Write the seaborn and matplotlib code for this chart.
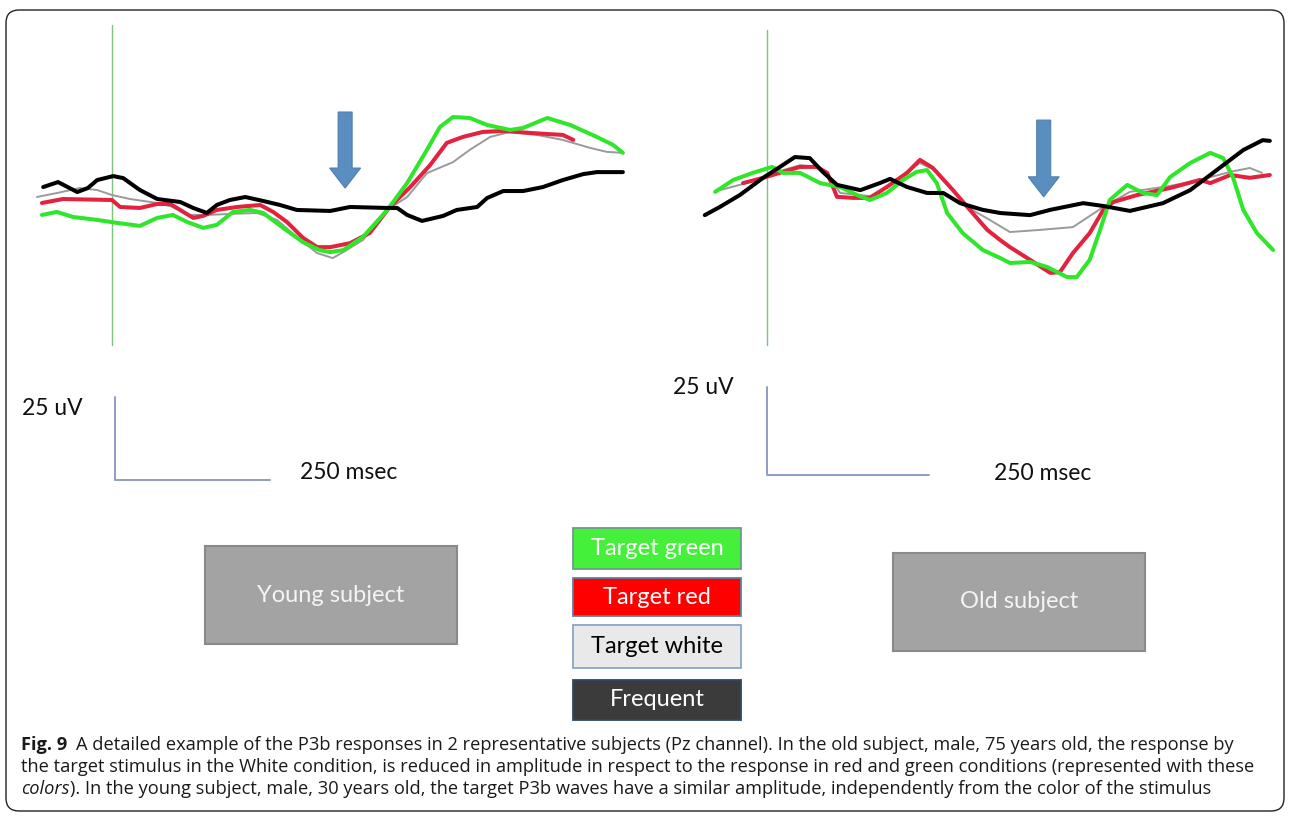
import numpy as np
import pandas as pd
import matplotlib
matplotlib.use("Agg")
import matplotlib.pyplot as plt
import seaborn as sns
from matplotlib.patches import FancyBboxPatch, Rectangle, FancyArrow

sns.set_theme(style="white")
plt.rcParams['font.family'] = ['Open Sans', 'DejaVu Sans']

# ---- P3b traces (time in ms, amplitude in uV) ----
# young subject
young_freq_t = [-111, -87, -56, -39, -24, 2, 18, 45, 73, 110, 131, 153, 169, 190, 215, 244, 271, 298,
                352, 384, 444, 460, 476, 500, 534, 556, 589, 605, 631, 663, 695, 727, 760, 782, 824]
young_freq_v = [3.9, 5.4, 2.4, 3.6, 6.0, 7.2, 6.6, 3.0, 0.3, -0.6, -2.4, -3.9, -1.5, 0.0, 0.9, -0.3, -1.5, -3.0,
                -3.3, -2.1, -2.4, -2.4, -4.5, -6.3, -4.8, -3.0, -2.1, 0.6, 2.7, 2.7, 3.9, 6.0, 7.8, 8.4, 8.4]

young_red_t = [-113, -79, 0, 13, 45, 73, 94, 110, 131, 147, 169, 202, 239, 260, 282, 308, 331, 352,
               384, 416, 448, 481, 513, 540, 566, 598, 631, 674, 727, 744]
young_red_v = [-0.9, 0.3, 0.0, -2.1, -2.4, -1.2, -1.2, -3.0, -5.4, -4.8, -3.0, -2.1, -1.5, -3.6, -6.6, -11.4, -14.2, -14.2,
               -13.0, -9.9, -2.1, 3.9, 10.5, 17.2, 19.0, 20.5, 20.8, 20.2, 19.6, 18.1]

young_green_t = [-113, -89, -63, -24, 8, 45, 73, 98, 121, 147, 169, 195, 223, 244, 276, 308, 335, 352,
                 373, 405, 444, 476, 508, 529, 550, 577, 605, 642, 663, 702, 739, 782, 808, 824]
young_green_v = [-4.5, -3.6, -5.1, -6.0, -6.9, -7.8, -5.4, -4.5, -6.6, -8.4, -7.5, -3.6, -3.0, -3.9, -8.4, -12.7, -15.1, -15.7,
                 -15.1, -11.1, -3.0, 5.1, 15.1, 22.0, 25.0, 24.7, 22.6, 21.1, 21.7, 24.7, 22.6, 19.0, 16.6, 14.2]

young_white_t = [-121, -89, -52, -24, 0, 29, 73, 98, 121, 153, 190, 234, 266, 298, 331, 356,
                 373, 405, 444, 476, 508, 550, 577, 610, 642, 685, 727, 771, 798, 824]
young_white_v = [0.9, 2.1, 3.6, 3.0, 1.5, 0.3, -0.9, -2.1, -4.5, -4.5, -4.2, -3.9, -6.0, -11.1, -16.0, -17.5,
                 -15.7, -12.0, -3.0, 0.9, 8.1, 11.4, 15.1, 19.0, 20.5, 19.6, 18.1, 15.7, 14.5, 14.2]

# old subject
old_freq_t = [-96, -73, -42, -6, 20, 43, 66, 86, 108, 144, 174, 190, 216, 247, 272, 298, 333, 360,
              406, 437, 488, 519, 560, 611, 653, 694, 735, 765, 776]
old_freq_v = [-4.3, -2.0, 1.4, 6.3, 9.4, 12.2, 11.9, 8.0, 4.3, 2.8, 4.8, 6.0, 3.7, 2.0, 2.0, -0.9, -2.8, -3.7,
              -4.3, -2.8, -0.9, -1.7, -3.1, -0.9, 2.8, 8.5, 14.2, 17.0, 16.8]

old_red_t = [-37, -6, 25, 51, 77, 93, 108, 133, 159, 185, 216, 236, 256, 287, 313, 340, 360, 375,
             406, 437, 452, 472, 498, 519, 534, 571, 622, 668, 684, 715, 745, 776]
old_red_v = [4.8, 6.3, 8.0, 9.4, 9.4, 7.7, 0.9, 0.6, 0.6, 3.7, 7.7, 11.4, 9.1, 2.8, -2.8, -8.5, -11.4, -13.4,
             -17.0, -20.7, -20.5, -15.1, -9.4, -2.8, -0.6, 1.4, 3.4, 5.7, 4.8, 7.1, 6.3, 7.1]

old_green_t = [-80, -52, -22, 8, 25, 51, 82, 113, 139, 159, 185, 210, 231, 247, 262, 278, 302, 333, 360,
               375, 406, 432, 463, 478, 498, 514, 529, 556, 580, 602, 622, 653, 684, 704, 719, 735, 756, 781]
old_green_v = [2.3, 5.7, 7.7, 9.4, 7.7, 7.7, 4.8, 3.7, 1.4, 0.0, 2.0, 5.7, 8.0, 8.5, 4.8, -3.7, -9.4, -14.2, -16.5,
               -17.9, -17.6, -19.0, -21.9, -21.9, -17.0, -8.5, 0.0, 4.3, 2.0, 1.4, 6.5, 10.5, 13.4, 11.9, 6.5, -2.8, -9.4, -14.2]

old_white_t = [-73, -42, -6, 25, 51, 77, 97, 113, 159, 190, 216, 236, 259, 287, 309, 344, 375,
               421, 472, 519, 560, 622, 668, 715, 745, 764]
old_white_v = [2.8, 4.3, 6.3, 8.5, 9.9, 9.4, 6.3, 2.0, 1.1, 4.3, 8.0, 10.5, 8.5, 2.8, -2.0, -5.7, -9.1,
               -8.5, -7.7, -2.0, 2.3, 4.0, 5.7, 8.0, 9.1, 7.7]

conditions = ["Target white", "Target red", "Target green", "Frequent"]
line_colors = {"Target green": "#2fe62a", "Target red": "#e3223f",
               "Target white": "#9a9a9a", "Frequent": "#000000"}
line_widths = {"Target green": 2.9, "Target red": 2.9, "Target white": 1.4, "Frequent": 2.9}

box_labels = ["Target green", "Target red", "Target white", "Frequent"]
box_fills = ["#44f03a", "#ff0000", "#e9e9e9", "#3b3b3b"]
box_text = ["white", "white", "black", "white"]

caption_1 = ("A detailed example of the P3b responses in 2 representative subjects (Pz channel). "
             "In the old subject, male, 75 years old, the response by")
caption_2 = ("the target stimulus in the White condition, is reduced in amplitude in respect to the "
             "response in red and green conditions (represented with these")
caption_3 = ("). In the young subject, male, 30 years old, the target P3b waves have a similar amplitude, "
             "independently from the color of the stimulus")

young = {"Target white": (young_white_t, young_white_v), "Target red": (young_red_t, young_red_v),
         "Target green": (young_green_t, young_green_v), "Frequent": (young_freq_t, young_freq_v)}
old = {"Target white": (old_white_t, old_white_v), "Target red": (old_red_t, old_red_v),
       "Target green": (old_green_t, old_green_v), "Frequent": (old_freq_t, old_freq_v)}

W, H = 1290, 816
fig = plt.figure(figsize=(W / 100, H / 100), dpi=100)

# background axes in pixel units for frame, boxes and caption
bg = fig.add_axes([0, 0, 1, 1], zorder=0)
bg.set_xlim(0, W)
bg.set_ylim(H, 0)
bg.axis("off")
bg.add_patch(FancyBboxPatch((6, 10), 1278, 801, boxstyle="round,pad=0,rounding_size=13",
                            fc="white", ec="#222222", lw=1.0))


def panel(px0, px1, ms_per_px_inv, x_zero, uv_px, y_zero, traces, arrow_ms, arrow_top, arrow_tip,
          stim_top, stim_bot, bar_ms, bar_uv, label_uv_pos, label_ms_pos):
    # axes occupying pixels px0..px1 horizontally and 20..500 vertically
    ax = fig.add_axes([px0 / W, 1 - 500 / H, (px1 - px0) / W, 480 / H], zorder=1)
    ax.patch.set_visible(False)
    ax.set_xlim((px0 - x_zero) / ms_per_px_inv, (px1 - x_zero) / ms_per_px_inv)
    ax.set_ylim((y_zero - 500) / uv_px, (y_zero - 20) / uv_px)
    ax.axis("off")
    # stimulus onset line
    ax.plot([0, 0], [stim_bot, stim_top], color="#7cc47c", lw=1.0, zorder=1)
    for name in conditions:
        t, v = traces[name]
        sns.lineplot(x=t, y=v, ax=ax, color=line_colors[name], linewidth=line_widths[name],
                     sort=False, estimator=None, legend=False, zorder=3)
    # arrow marking the P3b
    ax.add_patch(FancyArrow(arrow_ms, arrow_top, 0, arrow_tip - arrow_top, width=14 / ms_per_px_inv,
                            head_width=31 / ms_per_px_inv, head_length=20 / uv_px,
                            length_includes_head=True, fc="#5b8ec0", ec="#4f7fae", lw=0.8, zorder=4))
    # calibration bars: 25 uV and 250 ms
    bx, by = bar_ms, bar_uv
    ax.plot([bx, bx, bx + 250], [by + 25, by, by], color="#8e9cc6", lw=1.4, zorder=2)
    ax.text(label_uv_pos[0], label_uv_pos[1], "25 uV", fontsize=16.5, ha="left", va="center",
            family=["Lato", "DejaVu Sans"], color="#111111")
    ax.text(label_ms_pos[0], label_ms_pos[1], "250 msec", fontsize=16.5, ha="left", va="center",
            family=["Lato", "DejaVu Sans"], color="#111111")
    return ax


panel(20, 640, 0.62, 112, 3.32, 200, young, 376, 26.5, 3.6, 52.7, -43.7,
      4.8, -84.3, (-145, -62.7), (303, -82.0))
panel(660, 1285, 0.648, 767, 3.52, 200, old, 427, 22.7, 0.9, 48.3, -41.2,
      0, -78.1, (-145, -53.4), (351, -77.6))

# subject boxes
for (x0, y0, lab) in [(205, 546, "Young subject"), (893, 553, "Old subject")]:
    bg.add_patch(Rectangle((x0, y0), 252, 98, fc="#a3a3a3", ec="#8a8a8a", lw=1.5))
    bg.text(x0 + 126, y0 + 49, lab, ha="center", va="center", fontsize=17, color="#f4f4f4",
            family=["Lato", "DejaVu Sans"])

# legend boxes
box_y = [528, 578, 625, 680]
box_h = [41, 38, 43, 40]
box_edges = ["#6f9a8f", "#5f7f9f", "#8aa6c4", "#2d4a66"]
for lab, fc, tc, ec, y0, h in zip(box_labels, box_fills, box_text, box_edges, box_y, box_h):
    bg.add_patch(Rectangle((573, y0), 168, h, fc=fc, ec=ec, lw=1.3))
    bg.text(657, y0 + h / 2, lab, ha="center", va="center", fontsize=17, color=tc,
            family=["Lato", "DejaVu Sans"])

# caption
fs = 10
t_fit = bg.text(21, 767, caption_2, fontsize=fs, va="center", ha="left", color="#1a1a1a")
fig.canvas.draw()
r = fig.canvas.get_renderer()
fs = fs * 1236 / t_fit.get_window_extent(r).width
t_fit.set_fontsize(fs)

t_fig = bg.text(21, 745, "Fig. 9", fontsize=fs, weight="bold", va="center", ha="left", color="#1a1a1a")
t_col = bg.text(21, 789, "colors", fontsize=fs, style="italic", va="center", ha="left", color="#1a1a1a")
fig.canvas.draw()
x1 = t_fig.get_window_extent(r).x1
bg.text(x1 + 9, 745, caption_1, fontsize=fs, va="center", ha="left", color="#1a1a1a")
x3 = t_col.get_window_extent(r).x1
bg.text(x3, 789, caption_3, fontsize=fs, va="center", ha="left", color="#1a1a1a")

fig.savefig("out.png", dpi=100)
